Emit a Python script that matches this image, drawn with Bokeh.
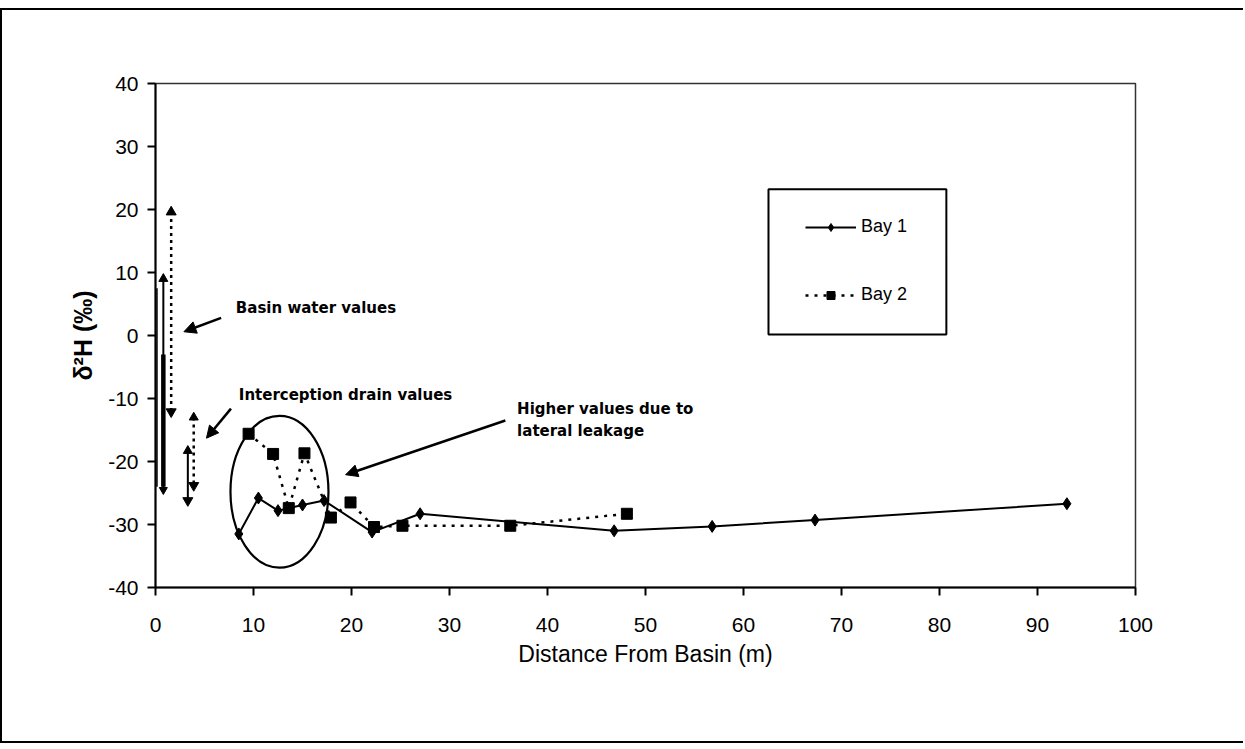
from bokeh.plotting import figure
from bokeh.models import (Range1d, FixedTicker, Legend, LegendItem, Arrow, NormalHead,
                          BoxAnnotation, ColumnDataSource, PrintfTickFormatter)
from bokeh.core.properties import value
from bokeh.embed import file_html
from bokeh.resources import INLINE

# ---------------- data ----------------
x_ticks = [0, 10, 20, 30, 40, 50, 60, 70, 80, 90, 100]
y_ticks = [-40, -30, -20, -10, 0, 10, 20, 30, 40]

bay1_x = [8.5, 10.5, 12.5, 15.0, 17.2, 22.1, 27.0, 46.8, 56.8, 67.3, 93.0]
bay1_y = [-31.5, -25.8, -27.8, -26.9, -26.2, -31.2, -28.3, -31.0, -30.3, -29.3, -26.7]

bay2_x = [9.5, 12.0, 13.6, 15.2, 17.9, 19.9, 22.3, 25.2, 36.2, 48.1]
bay2_y = [-15.6, -18.8, -27.4, -18.7, -28.9, -26.5, -30.4, -30.2, -30.2, -28.3]

# basin water and interception drain ranges (vertical lines)
basin1_x = [0.8, 0.8]
basin1_y = [9.0, -24.5]
basin1_inner_x = [0.15, 0.15]
basin1_inner_y = [7.5, -24.0]
basin1_dense_x = [0.8, 0.8]
basin1_dense_y = [-3.0, -24.0]
basin2_x = [1.6, 1.6]
basin2_y = [19.6, -12.1]
drain1_x = [3.3, 3.3]
drain1_y = [-18.3, -26.2]
drain2_x = [3.9, 3.9]
drain2_y = [-13.0, -23.8]

notes = ["Basin water values", "Interception drain values", "Higher values due to", "lateral leakage"]
notes_x = [8.2, 8.5, 36.9, 36.9]
notes_y = [4.3, -9.4, -11.6, -15.2]

# ---------------- figure ----------------
W, H = 1243, 735
p = figure(width=W, height=H, output_backend="svg", toolbar_location=None,
           x_range=Range1d(0, 100), y_range=Range1d(-40, 40),
           min_border_left=153, min_border_right=W - 1133, min_border_top=73,
           min_border_bottom=H - 577)
p.styles = {"border-left": "2px solid black", "border-top": "2px solid black",
            "border-bottom": "2px solid black", "margin-top": "8px"}
p.grid.visible = False
p.background_fill_color = "white"
p.outline_line_color = "#333333"
p.outline_line_width = 1.5

for ax, ticks in ((p.xaxis[0], x_ticks), (p.yaxis[0], y_ticks)):
    ax.ticker = FixedTicker(ticks=ticks)
    ax.formatter = PrintfTickFormatter(format="%d")
    ax.axis_line_width = 2
    ax.axis_line_color = "black"
    ax.major_tick_line_width = 2
    ax.major_tick_line_color = "black"
    ax.major_tick_out = 8
    ax.major_tick_in = 0
    ax.minor_tick_line_color = None
    ax.major_label_text_font = "Liberation Sans"
    ax.major_label_text_font_size = "21px"
    ax.major_label_text_color = "black"
    ax.axis_label_text_color = "black"

p.xaxis.major_label_standoff = 22
p.yaxis.major_label_standoff = 9
p.xaxis.axis_label = "Distance From Basin (m)"
p.xaxis.axis_label_text_font = "Liberation Sans"
p.xaxis.axis_label_text_font_size = "23px"
p.xaxis.axis_label_text_font_style = "normal"
p.xaxis.axis_label_standoff = 6
p.yaxis.axis_label = "δ²H (‰)"
p.yaxis.axis_label_text_font = "Liberation Sans"
p.yaxis.axis_label_text_font_size = "25px"
p.yaxis.axis_label_text_font_style = "bold"
p.yaxis.axis_label_standoff = 8

# ---------------- series ----------------
l1 = p.line(bay1_x, bay1_y, line_color="black", line_width=2)
m1 = p.scatter(bay1_x, bay1_y, marker="diamond", size=12, color="black")
l2 = p.line(bay2_x, bay2_y, line_color="black", line_width=2.5, line_dash="3 6")
m2 = p.scatter(bay2_x, bay2_y, marker="square", size=11, color="black")

# vertical range lines
p.line(basin1_inner_x, basin1_inner_y, line_color="black", line_width=1.5)
p.line(basin1_x, basin1_y, line_color="black", line_width=2)
p.line(basin1_dense_x, basin1_dense_y, line_color="black", line_width=4.5)
p.scatter(basin1_x[:1], basin1_y[:1], marker="triangle", size=9, color="black")
p.scatter(basin1_x[1:], basin1_y[1:], marker="inverted_triangle", size=8, color="black")
p.line(basin2_x, basin2_y, line_color="black", line_width=2.5, line_dash="3 4")
p.scatter(basin2_x[:1], basin2_y[:1], marker="triangle", size=10, color="black")
p.scatter(basin2_x[1:], basin2_y[1:], marker="inverted_triangle", size=10, color="black")
p.line(drain1_x, drain1_y, line_color="black", line_width=2)
p.scatter(drain1_x[:1], drain1_y[:1], marker="triangle", size=9, color="black")
p.scatter(drain1_x[1:], drain1_y[1:], marker="inverted_triangle", size=10, color="black")
p.line(drain2_x, drain2_y, line_color="black", line_width=2.5, line_dash="3 4")
p.scatter(drain2_x[:1], drain2_y[:1], marker="triangle", size=9, color="black")
p.scatter(drain2_x[1:], drain2_y[1:], marker="inverted_triangle", size=10, color="black")

# ellipse around the interception zone
p.ellipse(x=[12.65], y=[-24.8], width=[10.0], height=[24.1], fill_color=None,
          line_color="black", line_width=2.2)

# ---------------- annotations ----------------
src = ColumnDataSource(dict(x=notes_x, y=notes_y, t=notes))
p.text(x="x", y="y", text="t", source=src, text_font=value("DejaVu Sans"),
       text_font_style="bold", text_font_size="15px", text_baseline="middle",
       text_align="left", text_color="black")

arrows = [((6.7, 2.8), (2.9, 0.6)), ((7.7, -11.6), (5.2, -16.3)), ((35.7, -13.5), (19.4, -22.1))]
for (xs, ys), (xe, ye) in arrows:
    p.add_layout(Arrow(x_start=xs, y_start=ys, x_end=xe, y_end=ye, line_width=2.5,
                       line_color="black",
                       end=NormalHead(size=12, fill_color="black", line_color="black")))

# legend box + legend
p.add_layout(BoxAnnotation(left=62.55, right=80.7, top=23.2, bottom=0.16,
                           fill_color="white", fill_alpha=0.0, line_color="black",
                           line_alpha=1.0, line_width=2, level="overlay"))
legend = Legend(items=[LegendItem(label="Bay 1", renderers=[l1, m1]),
                       LegendItem(label="Bay 2", renderers=[l2, m2])],
                location=(650, 282), orientation="vertical")
legend.padding = 0
legend.margin = 0
legend.spacing = 47
legend.glyph_width = 51
legend.glyph_height = 20
legend.label_standoff = 5
legend.label_text_font = "Liberation Sans"
legend.label_text_font_size = "18px"
legend.label_text_color = "black"
legend.border_line_color = None
legend.background_fill_alpha = 0
p.add_layout(legend, "center")

open("out.html", "w").write(file_html(p, INLINE))
